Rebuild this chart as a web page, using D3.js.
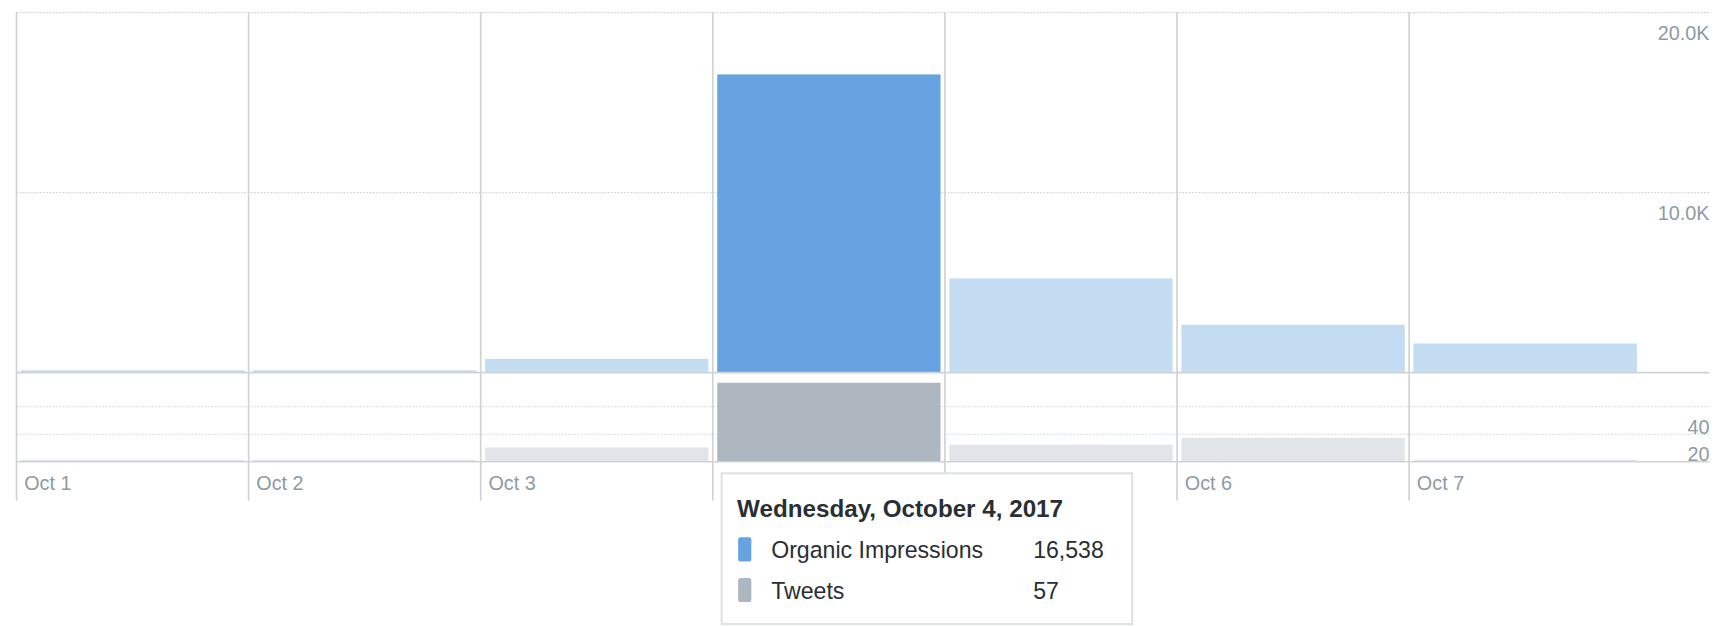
<!DOCTYPE html>
<html><head><meta charset="utf-8">
<script src="https://cdn.jsdelivr.net/npm/d3@7"></script>
<style>body{margin:0;background:#fff;font-family:"Helvetica Neue",Arial,"Liberation Sans",sans-serif}</style>
</head><body><svg id="c" width="1726" height="626"></svg>
<script>
const days = ["Oct 1","Oct 2","Oct 3","Oct 4","Oct 5","Oct 6","Oct 7"];
const impressions = [100, 100, 730, 16538, 5200, 2630, 1590];
const tweets = [1, 1, 10, 57, 12, 17, 1];
const impTicks = [10000, 20000];
const impTickLabels = ["10.0K","20.0K"];
const tweetTicks = [20, 40];
const highlight = "Oct 4";
const tooltipTitle = "Wednesday, October 4, 2017";

const root = d3.select("#c");
const svg = root.append("g").attr("transform","scale(" + (1726/1568) + ")");
const x = d3.scaleBand().domain(days).range([15, 1491]).paddingInner(0).paddingOuter(0);
const yI = d3.scaleLinear().domain([0, 20000]).range([338, 11]);
const yT = d3.scaleLinear().domain([0, 20]).range([419, 394]);
const right = 1553;
const grid = "#cfd3d6", txt = "#8f9aa3";

impTicks.forEach(v=>svg.append("line").attr("x1",15).attr("x2",right).attr("y1",yI(v)+0.5).attr("y2",yI(v)+0.5).attr("stroke",grid).attr("stroke-dasharray","1.5,1.5"));
tweetTicks.forEach(v=>svg.append("line").attr("x1",15).attr("x2",right).attr("y1",yT(v)+0.5).attr("y2",yT(v)+0.5).attr("stroke",grid).attr("stroke-dasharray","1.5,1.5"));

svg.selectAll(".bi").data(days).enter().append("rect")
  .attr("x",d=>x(d)+4).attr("width",x.bandwidth()-8)
  .attr("y",(d,i)=>yI(impressions[i])).attr("height",(d,i)=>yI(0)-yI(impressions[i]))
  .attr("fill",d=>d===highlight?"#66a3e0":"#c4dcf2");
svg.selectAll(".bt").data(days).enter().append("rect")
  .attr("x",d=>x(d)+4).attr("width",x.bandwidth()-8)
  .attr("y",(d,i)=>yT(tweets[i])).attr("height",(d,i)=>yT(0)-yT(tweets[i]))
  .attr("fill",d=>d===highlight?"#aeb6c0":"#e1e5ea");

svg.append("line").attr("x1",15).attr("x2",right).attr("y1",338.5).attr("y2",338.5).attr("stroke",grid).attr("stroke-width",1.5);
svg.append("line").attr("x1",15).attr("x2",right).attr("y1",419.5).attr("y2",419.5).attr("stroke",grid).attr("stroke-width",1.5);

days.forEach(d=>svg.append("line").attr("x1",x(d)).attr("x2",x(d)).attr("y1",11).attr("y2",455).attr("stroke",grid).attr("stroke-width",1.5));

impTicks.forEach((v,i)=>svg.append("text").attr("x",right).attr("y",yI(v)+25).attr("text-anchor","end").attr("font-size",18).attr("fill",txt).text(impTickLabels[i]));
tweetTicks.forEach(v=>svg.append("text").attr("x",right).attr("y",yT(v)+25).attr("text-anchor","end").attr("font-size",18).attr("fill",txt).text(v));

days.forEach(d=>svg.append("text").attr("x",x(d)+7).attr("y",445).attr("font-size",18).attr("fill",txt).text(d));

const tx = x(highlight)+8, ty = 430;
const g = svg.append("g");
g.append("rect").attr("x",tx).attr("y",ty).attr("width",373).attr("height",137).attr("fill","#fff").attr("stroke","#dfe3e6").attr("stroke-width",2);
g.append("text").attr("x",tx+14).attr("y",ty+40).attr("font-size",22).attr("font-weight","bold").attr("fill","#292f33").text(tooltipTitle);
const rows = [["Organic Impressions", impressions[3].toLocaleString("en-US"), "#66a3e0"],["Tweets", String(tweets[3]), "#aeb6c0"]];
rows.forEach((r,i)=>{
  const yy = ty+72+i*37;
  g.append("rect").attr("x",tx+15).attr("y",yy-14).attr("width",12).attr("height",22).attr("rx",2).attr("fill",r[2]);
  g.append("text").attr("x",tx+45).attr("y",yy+5).attr("font-size",21).attr("fill","#292f33").text(r[0]);
  g.append("text").attr("x",tx+283).attr("y",yy+5).attr("font-size",21).attr("fill","#292f33").text(r[1]);
});
</script></body></html>
